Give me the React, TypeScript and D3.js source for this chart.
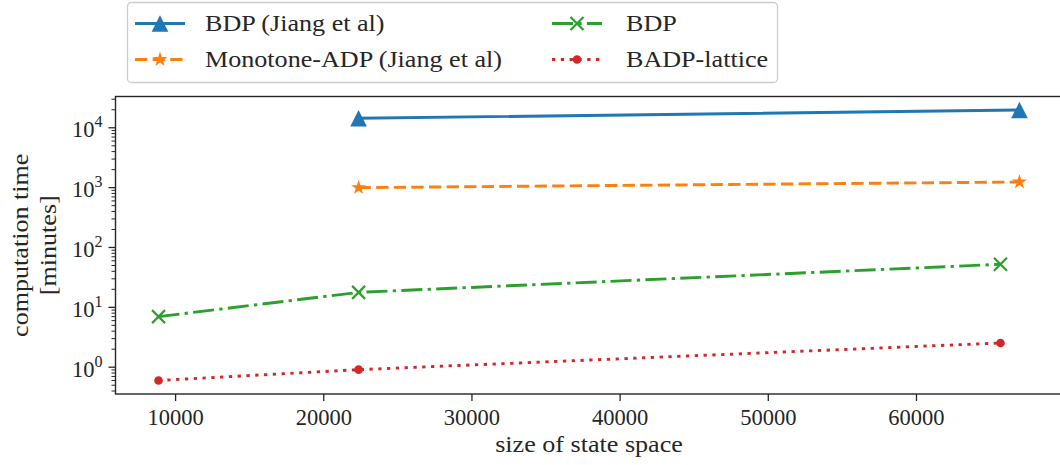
import React, { Component } from 'react';
import * as d3 from "d3";

// size of state space for each run
const xJiang = [22350, 66950];
const xOurs = [8850, 22350, 65670];

// computation time in minutes
const bdpJiang = [14400, 19800];
const monotoneJiang = [1000, 1240];
const bdpOurs = [7.0, 17.8, 52.4];
const badpLattice = [0.6, 0.91, 2.54];

const xTicks = [10000, 20000, 30000, 40000, 50000, 60000];
const yTicks = [1, 10, 100, 1000, 10000];

const seriesNames = ["BDP (Jiang et al)", "Monotone-ADP (Jiang et al)", "BDP", "BADP-lattice"];

const FONT = "'Liberation Serif', 'DejaVu Serif', serif";
// the reference uses Computer Modern, which runs wider than Liberation Serif
const WIDE = 1.16;

type Series = {
    name: string,
    xs: number[],
    ys: number[],
    color: string,
    dash: string | null,
    marker: string
};

class App extends Component {
    svgRef = React.createRef<SVGSVGElement>();

    componentDidMount() {
        const series: Series[] = [
            {name: seriesNames[0], xs: xJiang, ys: bdpJiang, color: "#1f77b4", dash: null, marker: "triangle"},
            {name: seriesNames[1], xs: xJiang, ys: monotoneJiang, color: "#ff7f0e", dash: "12.3,5.3", marker: "star"},
            {name: seriesNames[2], xs: xOurs, ys: bdpOurs, color: "#2ca02c", dash: "21,5.3,3.3,5.3", marker: "x"},
            {name: seriesNames[3], xs: xOurs, ys: badpLattice, color: "#d62728", dash: "3.3,5.5", marker: "dot"}
        ];
        const dims = {left: 115.5, right: 1062.5, top: 96.5, bottom: 394};
        const ranges = this.setRanges(dims, series);
        const svg = d3.select(this.svgRef.current);
        svg.selectAll("*").remove();
        this.drawLines(svg, ranges, series);
        this.addAxis(svg, dims, ranges);
        this.addLegend(svg, series);
    }

    setRanges = (dims, series: Series[]) => {
        // matplotlib style 5% margins
        const allX = series.flatMap(s => s.xs);
        const allY = series.flatMap(s => s.ys);
        const [x0, x1] = d3.extent(allX) as [number, number];
        const pad = (x1 - x0) * 0.05;
        const x = d3.scaleLinear().domain([x0 - pad, x1 + pad]).range([dims.left, dims.right]);

        const [ly0, ly1] = (d3.extent(allY) as [number, number]).map(Math.log10);
        const lpad = (ly1 - ly0) * 0.05;
        const y = d3.scaleLog().domain([Math.pow(10, ly0 - lpad), Math.pow(10, ly1 + lpad)]).range([dims.bottom, dims.top]);
        return {x: x, y: y};
    }

    // stretch a text node so it reads as wide as the LaTeX original
    widen = (node) => {
        const el = node.node() as SVGTextElement;
        const w = el.getComputedTextLength();
        node.attr("textLength", w * WIDE).attr("lengthAdjust", "spacingAndGlyphs");
        return node;
    }

    drawMarker = (g, kind: string, color: string, cx: number, cy: number) => {
        if (kind === "triangle") {
            g.append("path")
                .attr("d", `M${cx},${cy - 8.3}L${cx + 8.3},${cy + 8.3}L${cx - 8.3},${cy + 8.3}Z`)
                .attr("fill", color);
        } else if (kind === "star") {
            g.append("path")
                .attr("d", d3.symbol(d3.symbolStar, 70)())
                .attr("transform", `translate(${cx},${cy})`)
                .attr("fill", color);
        } else if (kind === "x") {
            const h = 6.5;
            g.append("path")
                .attr("d", `M${cx - h},${cy - h}L${cx + h},${cy + h}M${cx - h},${cy + h}L${cx + h},${cy - h}`)
                .attr("stroke", color)
                .attr("stroke-width", 2.2)
                .attr("fill", "none");
        } else {
            g.append("circle")
                .attr("cx", cx)
                .attr("cy", cy)
                .attr("r", 4.3)
                .attr("fill", color);
        }
    }

    drawLines = (svg, ranges, series: Series[]) => {
        const line = d3.line<[number, number]>()
            .x(d => ranges.x(d[0]))
            .y(d => ranges.y(d[1]));

        series.forEach(s => {
            const pts = s.xs.map((xv, i) => [xv, s.ys[i]] as [number, number]);
            const g = svg.append("g");
            g.append("path")
                .attr("d", line(pts))
                .attr("fill", "none")
                .attr("stroke", s.color)
                .attr("stroke-width", 2.9)
                .attr("stroke-dasharray", s.dash)
                .attr("stroke-linecap", s.dash ? "butt" : "square");
            pts.forEach(p => this.drawMarker(g, s.marker, s.color, ranges.x(p[0]), ranges.y(p[1])));
        });
    }

    addAxis = (svg, dims, ranges) => {
        const ink = "#262626";
        const ax = svg.append("g");

        // frame
        ax.append("rect")
            .attr("x", dims.left)
            .attr("y", dims.top)
            .attr("width", dims.right - dims.left)
            .attr("height", dims.bottom - dims.top)
            .attr("fill", "none")
            .attr("stroke", ink)
            .attr("stroke-width", 1.4);

        // x ticks
        xTicks.forEach(t => {
            const px = ranges.x(t);
            ax.append("line")
                .attr("x1", px).attr("x2", px)
                .attr("y1", dims.bottom).attr("y2", dims.bottom + 7)
                .attr("stroke", ink).attr("stroke-width", 1.3);
            ax.append("text")
                .attr("x", px)
                .attr("y", dims.bottom + 31)
                .attr("text-anchor", "middle")
                .attr("font-family", FONT)
                .attr("font-size", 22.5)
                .attr("fill", ink)
                .text(t);
        });

        // y minor ticks
        const [d0, d1] = ranges.y.domain();
        for (let e = Math.floor(Math.log10(d0)); e <= Math.ceil(Math.log10(d1)); e++) {
            for (let m = 2; m <= 9; m++) {
                const v = m * Math.pow(10, e);
                if (v < d0 || v > d1) continue;
                const py = ranges.y(v);
                ax.append("line")
                    .attr("x1", dims.left - 4).attr("x2", dims.left)
                    .attr("y1", py).attr("y2", py)
                    .attr("stroke", ink).attr("stroke-width", 1);
            }
        }

        // y major ticks with 10^n labels
        yTicks.forEach(t => {
            const py = ranges.y(t);
            ax.append("line")
                .attr("x1", dims.left - 7).attr("x2", dims.left)
                .attr("y1", py).attr("y2", py)
                .attr("stroke", ink).attr("stroke-width", 1.3);
            const label = ax.append("text")
                .attr("x", dims.left - 13)
                .attr("y", py + 9.5)
                .attr("text-anchor", "end")
                .attr("font-family", FONT)
                .attr("font-size", 22.5)
                .attr("fill", ink);
            label.append("tspan").text("10");
            label.append("tspan")
                .attr("dy", -10)
                .attr("font-size", 16)
                .text(Math.round(Math.log10(t)));
        });

        // axis titles
        const xt = ax.append("text")
            .attr("x", (dims.left + dims.right) / 2)
            .attr("y", 452)
            .attr("text-anchor", "middle")
            .attr("font-family", FONT)
            .attr("font-size", 22.5)
            .attr("fill", ink)
            .text("size of state space");
        this.widen(xt);

        const midY = (dims.top + dims.bottom) / 2;
        [["computation time", 20], ["[minutes]", 48]].forEach(([txt, cx]) => {
            const yt = ax.append("text")
                .attr("transform", `translate(${cx},${midY}) rotate(-90)`)
                .attr("text-anchor", "middle")
                .attr("dominant-baseline", "central")
                .attr("font-family", FONT)
                .attr("font-size", 22.5)
                .attr("fill", ink)
                .text(txt);
            this.widen(yt);
        });
    }

    addLegend = (svg, series: Series[]) => {
        const lg = svg.append("g");
        lg.append("rect")
            .attr("x", 127.5)
            .attr("y", 2.5)
            .attr("width", 650)
            .attr("height", 80)
            .attr("rx", 4)
            .attr("fill", "white")
            .attr("fill-opacity", 0.8)
            .attr("stroke", "#cccccc")
            .attr("stroke-width", 1.3);

        const cols = [{hx: 135, tx: 205}, {hx: 552, tx: 626}];
        const rows = [23.5, 59.5];
        series.forEach((s, i) => {
            const c = cols[Math.floor(i / 2)];
            const ry = rows[i % 2];
            const g = lg.append("g");
            g.append("line")
                .attr("x1", c.hx).attr("x2", c.hx + 50)
                .attr("y1", ry).attr("y2", ry)
                .attr("stroke", s.color)
                .attr("stroke-width", 2.9)
                .attr("stroke-dasharray", s.dash);
            this.drawMarker(g, s.marker, s.color, c.hx + 25, ry);
            const t = g.append("text")
                .attr("x", c.tx)
                .attr("y", ry)
                .attr("dominant-baseline", "central")
                .attr("font-family", FONT)
                .attr("font-size", 22.5)
                .attr("fill", "#262626")
                .text(s.name);
            this.widen(t);
        });
    }

    render() {
        return (
            <div>
                <svg ref={this.svgRef} width={1060} height={465}
                    style={{position: "absolute", left: 0, top: 0, background: "white"}}></svg>
            </div>
        );
    }
}

export default App;
